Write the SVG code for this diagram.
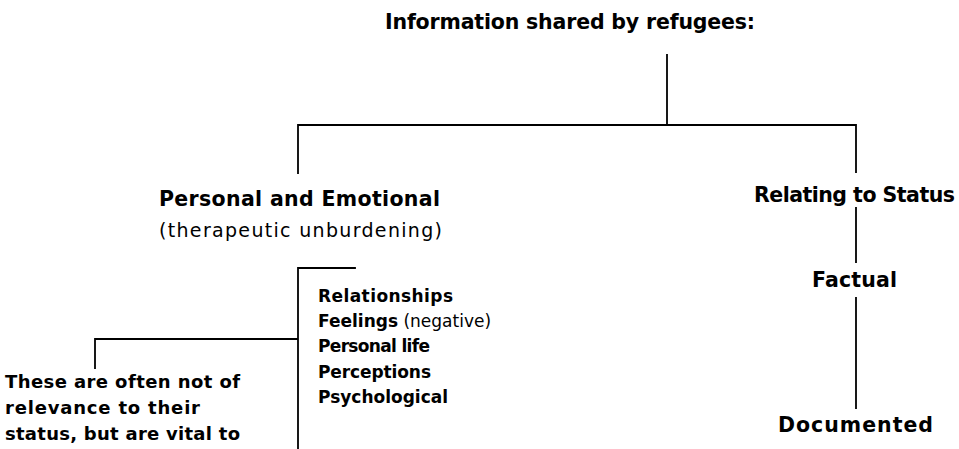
<svg xmlns="http://www.w3.org/2000/svg" width="959" height="449" viewBox="0 0 959 449">
<style>
text{font-family:"DejaVu Sans","Liberation Sans",Arial,sans-serif;fill:#000}
.h{font-size:20.5px;font-weight:bold}
.r{font-size:19px;font-weight:normal}
.s{font-size:17px;font-weight:bold}
.n{font-size:18px;font-weight:bold}
.sr{font-size:17px;font-weight:normal}
.c{stroke:#000;stroke-width:1.8;fill:none;stroke-linecap:square}
</style>
<rect width="959" height="449" fill="#fff"/>
<g id="connectors" class="c">
<path d="M667 55V125M298 173V125H856V172"/>
<path d="M856 208V262M856 298V408"/>
<path d="M355 268H298V449M298 339H95V368"/>
</g>
<g id="title"><text class="h" x="385" y="29" textLength="370">Information shared by refugees:</text></g>
<g id="personal">
<text class="h" x="159" y="206" textLength="281">Personal and Emotional</text>
<text class="r" x="159" y="237" textLength="283">(therapeutic unburdening)</text>
</g>
<g id="status"><text class="h" x="754" y="202" textLength="201">Relating to Status</text></g>
<g id="factual"><text class="h" x="812" y="287" textLength="85">Factual</text></g>
<g id="documented"><text class="h" x="778" y="432" textLength="155">Documented</text></g>
<g id="list">
<text class="s" x="318" y="302" textLength="135">Relationships</text>
<text x="318" y="327"><tspan class="s">Feelings</tspan><tspan class="sr"> (negative)</tspan></text>
<text class="s" x="318" y="352" textLength="112">Personal life</text>
<text class="s" x="318" y="378" textLength="113">Perceptions</text>
<text class="s" x="318" y="403" textLength="130">Psychological</text>
</g>
<g id="note">
<text class="n" x="5" y="388" textLength="235">These are often not of</text>
<text class="n" x="5" y="414" textLength="195">relevance to their</text>
<text class="n" x="5" y="440" textLength="235">status, but are vital to</text>
</g>
</svg>
